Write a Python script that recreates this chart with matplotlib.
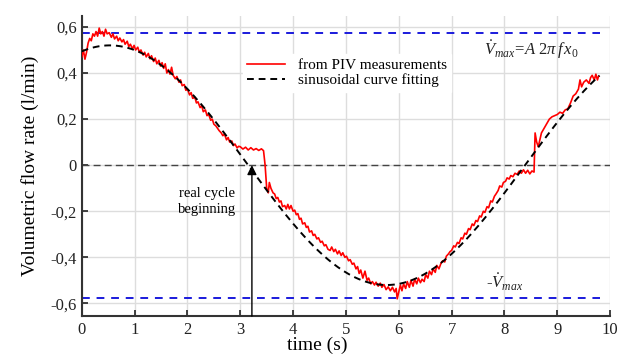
"""
Volumetric flow rate from PIV vs sinusoidal fit
"""

import numpy as np
import matplotlib
matplotlib.use("Agg")
from matplotlib import pyplot as plt
from matplotlib.ticker import FuncFormatter

# red curve: time (s), flow rate (l/min)
piv_t = [0.00, 0.03, 0.06, 0.09, 0.12, 0.15, 0.18, 0.21, 0.24, 0.27, 0.30, 0.33, 0.36, 0.39,
         0.42, 0.45, 0.48, 0.52, 0.56, 0.59, 0.62, 0.66, 0.69, 0.72, 0.76, 0.79, 0.82, 0.86,
         0.89, 0.92, 0.96, 0.99, 1.02, 1.06, 1.09, 1.12, 1.16, 1.19, 1.22, 1.26, 1.29, 1.32,
         1.36, 1.39, 1.42, 1.46, 1.49, 1.52, 1.55, 1.58, 1.61, 1.64, 1.67, 1.70, 1.73, 1.77,
         1.80, 1.84, 1.87, 1.90, 1.94, 1.97, 2.00, 2.04, 2.07, 2.10, 2.14, 2.17, 2.20, 2.24,
         2.27, 2.30, 2.34, 2.37, 2.40, 2.44, 2.47, 2.50, 2.54, 2.57, 2.60, 2.64, 2.67, 2.70,
         2.74, 2.77, 2.80, 2.84, 2.87, 2.90, 2.94, 2.97, 3.00, 3.05, 3.10, 3.15, 3.20, 3.25,
         3.30, 3.35, 3.40, 3.44, 3.47, 3.50, 3.53, 3.55, 3.58, 3.62, 3.65, 3.68, 3.71, 3.74,
         3.77, 3.80, 3.84, 3.87, 3.90, 3.93, 3.96, 4.00, 4.03, 4.06, 4.09, 4.12, 4.15, 4.18,
         4.22, 4.25, 4.28, 4.31, 4.35, 4.38, 4.41, 4.45, 4.48, 4.52, 4.55, 4.59, 4.62, 4.66,
         4.70, 4.73, 4.77, 4.80, 4.84, 4.87, 4.91, 4.94, 4.98, 5.01, 5.05, 5.08, 5.12, 5.15,
         5.19, 5.22, 5.25, 5.28, 5.32, 5.36, 5.40, 5.43, 5.47, 5.50, 5.54, 5.57, 5.61, 5.65,
         5.68, 5.72, 5.76, 5.80, 5.84, 5.88, 5.92, 5.95, 5.97, 6.00, 6.03, 6.06, 6.09, 6.13,
         6.16, 6.20, 6.23, 6.27, 6.30, 6.34, 6.37, 6.41, 6.44, 6.48, 6.51, 6.55, 6.58, 6.62,
         6.65, 6.69, 6.72, 6.76, 6.80, 6.83, 6.87, 6.90, 6.94, 6.97, 7.00, 7.04, 7.07, 7.11,
         7.14, 7.18, 7.21, 7.25, 7.28, 7.32, 7.35, 7.39, 7.42, 7.46, 7.49, 7.53, 7.56, 7.60,
         7.63, 7.67, 7.70, 7.74, 7.77, 7.81, 7.84, 7.88, 7.91, 7.95, 7.98, 8.02, 8.05, 8.09,
         8.12, 8.16, 8.20, 8.24, 8.28, 8.32, 8.36, 8.40, 8.44, 8.48, 8.52, 8.56, 8.58, 8.61,
         8.64, 8.67, 8.70, 8.75, 8.80, 8.85, 8.90, 8.95, 9.00, 9.05, 9.10, 9.15, 9.20, 9.25,
         9.30, 9.35, 9.40, 9.43, 9.46, 9.50, 9.55, 9.60, 9.63, 9.66, 9.70, 9.73, 9.76, 9.78]
piv_q = [0.470, 0.500, 0.460, 0.490, 0.530, 0.550, 0.540, 0.570, 0.560, 0.580, 0.560, 0.595, 0.570, 0.580,
         0.560, 0.590, 0.570, 0.575, 0.555, 0.570, 0.548, 0.560, 0.540, 0.552, 0.535, 0.545, 0.525, 0.538,
         0.515, 0.525, 0.505, 0.520, 0.500, 0.512, 0.490, 0.500, 0.478, 0.490, 0.470, 0.485, 0.462, 0.475,
         0.450, 0.465, 0.440, 0.455, 0.430, 0.445, 0.420, 0.440, 0.400, 0.415, 0.395, 0.425, 0.390, 0.375,
         0.385, 0.360, 0.370, 0.345, 0.350, 0.325, 0.330, 0.305, 0.315, 0.290, 0.295, 0.270, 0.275, 0.250,
         0.258, 0.232, 0.240, 0.215, 0.222, 0.195, 0.200, 0.178, 0.170, 0.160, 0.150, 0.140, 0.128, 0.135,
         0.110, 0.120, 0.100, 0.105, 0.085, 0.092, 0.075, 0.082, 0.080, 0.070, 0.078, 0.066, 0.076, 0.066,
         0.072, 0.064, 0.071, 0.063, 0.000, -0.100, -0.120, -0.075, -0.100, -0.120, -0.125, -0.145, -0.140, -0.160,
         -0.155, -0.180, -0.175, -0.190, -0.170, -0.190, -0.175, -0.200, -0.195, -0.215, -0.210, -0.235, -0.230, -0.255,
         -0.250, -0.270, -0.265, -0.290, -0.285, -0.305, -0.300, -0.320, -0.315, -0.335, -0.330, -0.350, -0.345, -0.365,
         -0.370, -0.355, -0.375, -0.365, -0.385, -0.372, -0.392, -0.380, -0.400, -0.395, -0.415, -0.410, -0.430, -0.425,
         -0.450, -0.440, -0.470, -0.455, -0.490, -0.460, -0.500, -0.490, -0.515, -0.505, -0.520, -0.508, -0.525, -0.512,
         -0.530, -0.518, -0.540, -0.528, -0.545, -0.530, -0.550, -0.535, -0.580, -0.550, -0.520, -0.545, -0.515, -0.535,
         -0.505, -0.530, -0.500, -0.525, -0.495, -0.515, -0.490, -0.510, -0.495, -0.505, -0.475, -0.490, -0.460, -0.475,
         -0.450, -0.465, -0.435, -0.450, -0.425, -0.415, -0.420, -0.395, -0.385, -0.375, -0.370, -0.350, -0.355, -0.335,
         -0.340, -0.315, -0.320, -0.295, -0.300, -0.275, -0.280, -0.255, -0.262, -0.240, -0.245, -0.220, -0.225, -0.200,
         -0.205, -0.180, -0.185, -0.155, -0.160, -0.135, -0.125, -0.110, -0.090, -0.095, -0.075, -0.070, -0.055, -0.060,
         -0.045, -0.050, -0.035, -0.040, -0.025, -0.035, -0.020, -0.035, -0.022, -0.038, -0.025, -0.030, 0.140, 0.100,
         0.080, 0.110, 0.140, 0.160, 0.180, 0.200, 0.210, 0.215, 0.220, 0.230, 0.225, 0.240, 0.245, 0.270,
         0.300, 0.310, 0.330, 0.370, 0.340, 0.360, 0.370, 0.355, 0.380, 0.390, 0.370, 0.395, 0.370, 0.385]

# sinusoidal fit parameters
FIT_AMP = 0.52      # l/min
FIT_PERIOD = 10.48  # s
FIT_T_PEAK = 0.53   # s
FIT_T_END = 9.8

V_MAX = 0.575       # blue dashed limits
T_CYCLE = 3.22      # real cycle beginning

y_ticks = [-0.6, -0.4, -0.2, 0, 0.2, 0.4, 0.6]
x_ticks = list(range(0, 11))

plt.rcParams["font.family"] = ["Liberation Serif", "DejaVu Serif"]
plt.rcParams["mathtext.fontset"] = "custom"
plt.rcParams["mathtext.rm"] = "Liberation Serif"
plt.rcParams["mathtext.it"] = "Liberation Serif:italic"


def comma_fmt(val, pos):
    if abs(val) < 1e-9:
        return "0"
    return ("%.1f" % val).replace(".", ",")


fig = plt.figure(figsize=(6.29, 3.58), dpi=100)
ax = fig.add_axes([0.130, 0.117, 0.840, 0.838])

ax.set_xlim(0, 10)
ax.set_ylim(-0.655, 0.647)
ax.grid(color="#dddddd", linewidth=1.0)
ax.set_axisbelow(True)

ax.axhline(0, color="#444444", linestyle=(0, (5, 3)), linewidth=1.0, zorder=2)
ax.plot([0, 9.8], [V_MAX, V_MAX], color="#1a1adc", linestyle=(0, (4, 3.5)), linewidth=1.4, zorder=2)
ax.plot([0, 9.8], [-V_MAX, -V_MAX], color="#1a1adc", linestyle=(0, (4, 3.5)), linewidth=1.4, zorder=2)

fit_t = np.linspace(0, FIT_T_END, 300)
fit_q = FIT_AMP * np.cos(2 * np.pi * (fit_t - FIT_T_PEAK) / FIT_PERIOD)

ax.plot(piv_t, piv_q, color="#ff0000", linewidth=1.2, zorder=3, label="from PIV measurements")
ax.plot(fit_t, fit_q, color="black", linestyle=(0, (3.5, 2.5)), linewidth=1.4, zorder=4,
        label="sinusoidal curve fitting")

ax.annotate("", xy=(T_CYCLE, 0.0), xytext=(T_CYCLE, -0.655),
            arrowprops=dict(arrowstyle="-|>", color="black", lw=1.0,
                            mutation_scale=14, shrinkA=0, shrinkB=0), zorder=5)
ax.text(2.37, -0.157, "real cycle\nbeginning", ha="center", va="center", fontsize=10.5,
        linespacing=1.25)

ax.text(8.5, 0.50, r"$\dot{V}_{max}\!=\!A\ 2\pi\,f\,x_0$", ha="center", va="center",
        fontsize=12, color="#222222")
ax.text(8.0, -0.51, r"-$\dot{V}_{max}$", ha="center", va="center",
        fontsize=12, color="#222222")

leg = ax.legend(loc="upper left", bbox_to_anchor=(0.29, 0.90), fontsize=11,
                frameon=True, fancybox=False, edgecolor="white", framealpha=1.0,
                handlelength=2.5, handletextpad=0.8, borderpad=0.3, labelspacing=0.1)
leg.set_zorder(6)

ax.set_xticks(x_ticks)
ax.set_yticks(y_ticks)
ax.yaxis.set_major_formatter(FuncFormatter(comma_fmt))
ax.tick_params(direction="in", length=4, width=1.2, labelsize=12, colors="#222222")
ax.tick_params(axis="x", pad=4)

for side in ["top", "right"]:
    ax.spines[side].set_visible(False)
for side in ["left", "bottom"]:
    ax.spines[side].set_linewidth(1.5)
    ax.spines[side].set_color("#333333")

ax.set_xlabel("time (s)", fontsize=14, labelpad=2)
ax.xaxis.set_label_coords(0.445, -0.07)
ax.set_ylabel("Volumetric flow rate (l/min)", fontsize=14, labelpad=8)

plt.savefig("out.png", dpi=100)
